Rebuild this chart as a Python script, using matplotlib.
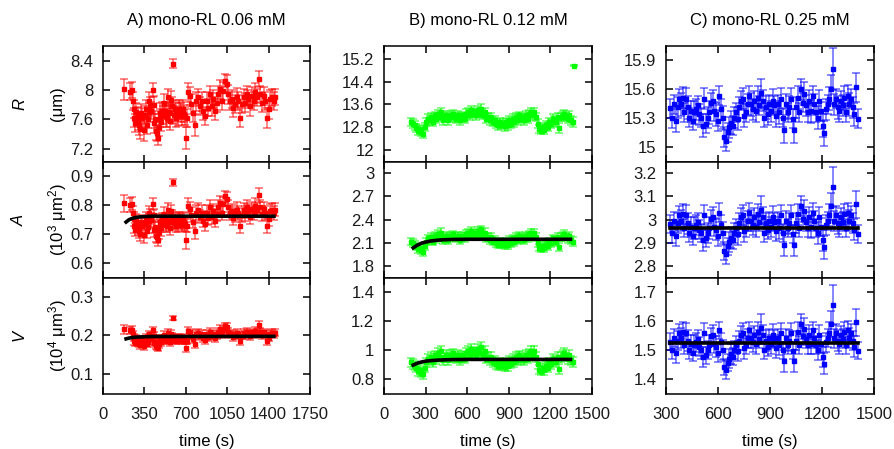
import numpy as np
import matplotlib
matplotlib.use("Agg")
import matplotlib.pyplot as plt
from matplotlib.ticker import FormatStrFormatter

plt.rcParams['font.family'] = ['Liberation Sans', 'DejaVu Sans']
plt.rcParams['mathtext.default'] = 'regular'
plt.rcParams['font.size'] = 12

# ---- A) mono-RL 0.06 mM : radius (um) vs time (s)
a_t = [180, 231, 245, 252, 259, 265, 270, 282, 293, 300, 307, 315, 322, 330, 344, 352, 364, 371, 378, 385,
       393, 401, 410, 421, 428, 435, 442, 449, 456, 464, 470, 478, 485, 492, 500, 508, 515, 525, 535, 542,
       549, 556, 563, 570, 577, 584, 591, 598, 606, 613, 620, 630, 640, 648, 657, 667, 677, 684, 691, 705,
       712, 719, 733, 748, 762, 776, 790, 804, 819, 833, 847, 861, 875, 890, 904, 918, 932, 946, 961, 975,
       989, 1003, 1017, 1032, 1046, 1060, 1074, 1088, 1103, 1117, 1131, 1145, 1159, 1174, 1188, 1202, 1216, 1230, 1245, 1259,
       1273, 1287, 1301, 1316, 1330, 1344, 1358, 1372, 1387, 1401, 1415, 1429, 1443, 1452]
a_R = [8.01, 7.98, 8.00, 7.85, 7.74, 7.62, 7.55, 7.70, 7.64, 7.58, 7.53, 7.47, 7.69, 7.62, 7.45, 7.66, 7.74, 7.52, 7.60, 7.70,
       7.85, 7.78, 7.72, 8.00, 7.80, 7.55, 7.60, 7.44, 7.42, 7.35, 7.50, 7.69, 7.62, 7.57, 7.72, 7.66, 7.82, 7.72, 7.64, 7.62,
       7.90, 7.70, 7.69, 7.58, 7.87, 7.78, 8.36, 7.66, 7.74, 7.70, 7.62, 7.64, 7.74, 7.72, 7.69, 7.64, 7.74, 7.68, 7.645, 7.35,
       7.62, 7.97, 7.92, 7.81, 7.69, 7.53, 7.85, 7.90, 7.78, 7.85, 7.71, 7.645, 7.85, 7.76, 7.94, 7.78, 7.875, 7.71, 7.83, 7.94,
       8.01, 7.85, 7.99, 8.13, 8.08, 7.94, 7.85, 7.875, 7.76, 7.81, 7.90, 7.85, 7.62, 7.81, 7.90, 7.83, 7.94, 7.875, 7.78, 7.92,
       7.85, 7.97, 7.90, 8.15, 7.94, 7.83, 7.92, 7.85, 7.62, 7.74, 7.875, 7.90, 7.85, 7.90]
a_err = [0.14, 0.12, 0.11, 0.12, 0.12, 0.13, 0.12, 0.12, 0.13, 0.12, 0.14, 0.13, 0.12, 0.13, 0.15, 0.12, 0.13, 0.12, 0.12, 0.13,
         0.12, 0.13, 0.12, 0.10, 0.12, 0.13, 0.12, 0.12, 0.11, 0.10, 0.12, 0.13, 0.12, 0.13, 0.12, 0.12, 0.13, 0.12, 0.14, 0.12,
         0.12, 0.13, 0.12, 0.13, 0.12, 0.12, 0.06, 0.12, 0.13, 0.12, 0.12, 0.13, 0.12, 0.12, 0.13, 0.12, 0.13, 0.12, 0.12, 0.15,
         0.12, 0.13, 0.12, 0.13, 0.12, 0.15, 0.13, 0.12, 0.12, 0.13, 0.12, 0.12, 0.13, 0.12, 0.12, 0.13, 0.12, 0.12, 0.13, 0.12,
         0.13, 0.12, 0.12, 0.09, 0.12, 0.13, 0.12, 0.12, 0.13, 0.12, 0.13, 0.12, 0.13, 0.12, 0.12, 0.13, 0.12, 0.12, 0.13, 0.12,
         0.12, 0.13, 0.12, 0.11, 0.12, 0.13, 0.12, 0.12, 0.14, 0.13, 0.12, 0.12, 0.12, 0.11]
a_fit_t = [195, 220, 250, 280, 320, 360, 420, 1445]
a_fit_A = [0.742, 0.750, 0.755, 0.758, 0.760, 0.761, 0.762, 0.762]
a_fit_V = [0.191, 0.193, 0.1945, 0.1955, 0.196, 0.1965, 0.197, 0.1975]

# ---- B) mono-RL 0.12 mM
b_t = [197, 209, 221, 233, 245, 257, 269, 281, 293, 305, 317, 329, 341, 353, 365, 377, 389, 401, 413, 425,
       437, 449, 461, 473, 485, 497, 509, 521, 533, 545, 557, 569, 581, 593, 605, 617, 629, 641, 653, 665,
       677, 689, 701, 713, 725, 737, 749, 761, 773, 785, 797, 809, 821, 833, 845, 857, 869, 881, 893, 905,
       917, 929, 941, 953, 965, 977, 989, 1001, 1013, 1025, 1037, 1049, 1061, 1073, 1085, 1097, 1109, 1121, 1133, 1145,
       1157, 1169, 1181, 1193, 1205, 1217, 1229, 1241, 1253, 1265, 1277, 1289, 1301, 1313, 1325, 1337, 1349, 1361]
b_R = [12.98, 12.92, 12.86, 12.78, 12.68, 12.74, 12.63, 12.57, 12.80, 12.98,
       13.10, 13.04, 13.15, 12.98, 13.21, 13.10, 13.27, 13.15, 13.33, 13.04,
       13.15, 13.21, 13.04, 13.15, 13.21, 13.27, 13.15, 13.10, 13.21, 13.04,
       13.15, 13.21, 13.10, 13.27, 13.33, 13.21, 13.39, 13.27, 13.33, 13.21,
       13.39, 13.27, 13.45, 13.21, 13.33, 13.10, 13.15, 13.04, 13.15, 12.98,
       13.04, 12.92, 12.86, 12.98, 12.86, 12.92, 12.83, 12.98, 12.86, 13.04,
       12.92, 13.10, 12.98, 13.15, 13.04, 13.21, 13.10, 13.15, 13.04, 13.21,
       13.10, 13.27, 13.33, 13.21, 13.33, 13.15, 12.92, 12.74, 12.68, 12.80,
       12.71, 12.86, 12.80, 12.98, 12.92, 13.10, 13.04, 12.98, 13.15, 12.77,
       13.15, 13.21, 13.27, 13.15, 13.10, 13.21, 13.04, 12.98]
b_err = [0.15, 0.16, 0.15, 0.14, 0.16, 0.15, 0.15, 0.17, 0.15, 0.14,
         0.15, 0.16, 0.15, 0.15, 0.14, 0.16, 0.15, 0.15, 0.16, 0.15,
         0.14, 0.15, 0.16, 0.15, 0.15, 0.14, 0.16, 0.15, 0.15, 0.16,
         0.15, 0.14, 0.15, 0.16, 0.15, 0.15, 0.16, 0.15, 0.14, 0.15,
         0.16, 0.15, 0.15, 0.14, 0.16, 0.15, 0.15, 0.16, 0.15, 0.14,
         0.15, 0.16, 0.15, 0.15, 0.14, 0.16, 0.15, 0.15, 0.16, 0.15,
         0.14, 0.15, 0.16, 0.15, 0.15, 0.14, 0.16, 0.15, 0.15, 0.16,
         0.15, 0.14, 0.15, 0.16, 0.15, 0.15, 0.16, 0.15, 0.14, 0.15,
         0.16, 0.15, 0.15, 0.14, 0.16, 0.15, 0.15, 0.16, 0.15, 0.17,
         0.15, 0.16, 0.15, 0.14, 0.16, 0.15, 0.15, 0.16]
b_out_t = [1370]
b_out_R = [14.97]
b_out_err = [0.03]
b_fit_t = [211, 240, 270, 300, 340, 380, 430, 500, 600, 1345]
b_fit_A = [2.035, 2.07, 2.095, 2.11, 2.125, 2.133, 2.14, 2.144, 2.146, 2.146]
b_fit_V = [0.897, 0.91, 0.918, 0.924, 0.928, 0.931, 0.933, 0.935, 0.936, 0.936]

# ---- C) mono-RL 0.25 mM
c_t = [323, 335, 348, 358, 367, 377, 387, 396, 406, 415, 425, 435, 444, 454, 463, 473, 483, 492, 502, 512,
       521, 531, 540, 550, 560, 569, 579, 588, 598, 608, 617, 627, 637, 646, 656, 665, 675, 685, 694, 704,
       713, 723, 733, 742, 752, 762, 771, 781, 790, 800, 810, 819, 829, 838, 848, 858, 867, 877, 887, 896,
       906, 915, 925, 935, 944, 954, 963, 973, 983, 992, 1002, 1012, 1021, 1031, 1040, 1050, 1060, 1069, 1079, 1088,
       1098, 1108, 1117, 1127, 1137, 1146, 1156, 1165, 1175, 1185, 1194, 1204, 1213, 1223, 1233, 1242, 1252, 1262, 1271, 1281,
       1290, 1300, 1310, 1319, 1329, 1338, 1348, 1358, 1367, 1377, 1387, 1396, 1406]
c_R = [15.40, 15.30, 15.44, 15.27, 15.41, 15.50, 15.44, 15.51, 15.36, 15.50, 15.41, 15.30, 15.37, 15.27, 15.36, 15.39, 15.43, 15.34, 15.30, 15.22,
       15.50, 15.24, 15.30, 15.36, 15.46, 15.48, 15.37, 15.34, 15.27, 15.53, 15.39, 15.30, 15.10, 15.06, 15.15, 15.20, 15.25, 15.22, 15.30, 15.36,
       15.29, 15.41, 15.48, 15.50, 15.32, 15.36, 15.44, 15.53, 15.44, 15.39, 15.48, 15.37, 15.51, 15.43, 15.56, 15.48, 15.30, 15.41, 15.34, 15.44,
       15.37, 15.48, 15.43, 15.32, 15.44, 15.36, 15.50, 15.30, 15.17, 15.44, 15.36, 15.41, 15.50, 15.29, 15.17, 15.41, 15.51, 15.36, 15.60, 15.46,
       15.55, 15.43, 15.36, 15.48, 15.37, 15.53, 15.44, 15.36, 15.30, 15.48, 15.37, 15.22, 15.14, 15.39, 15.44, 15.50, 15.60, 15.81, 15.44, 15.50,
       15.41, 15.37, 15.48, 15.43, 15.51, 15.36, 15.53, 15.44, 15.50, 15.41, 15.34, 15.62, 15.29]
c_err = [0.10, 0.11, 0.10, 0.12, 0.11, 0.10, 0.12, 0.11, 0.10, 0.11, 0.12, 0.10, 0.11, 0.10, 0.12, 0.11, 0.10, 0.11, 0.10, 0.12,
         0.11, 0.10, 0.11, 0.12, 0.10, 0.11, 0.10, 0.12, 0.11, 0.10, 0.11, 0.12, 0.10, 0.11, 0.10, 0.11, 0.12, 0.10, 0.11, 0.10,
         0.12, 0.11, 0.10, 0.11, 0.12, 0.10, 0.11, 0.10, 0.12, 0.11, 0.10, 0.11, 0.12, 0.10, 0.15, 0.11, 0.10, 0.12, 0.11, 0.10,
         0.11, 0.12, 0.10, 0.11, 0.10, 0.12, 0.11, 0.10, 0.13, 0.11, 0.10, 0.12, 0.11, 0.10, 0.13, 0.11, 0.12, 0.10, 0.11, 0.10,
         0.12, 0.11, 0.10, 0.11, 0.12, 0.10, 0.11, 0.10, 0.12, 0.11, 0.10, 0.12, 0.13, 0.11, 0.10, 0.12, 0.15, 0.22, 0.11, 0.10,
         0.12, 0.11, 0.10, 0.11, 0.12, 0.10, 0.11, 0.12, 0.10, 0.11, 0.12, 0.15, 0.10]
c_fit_t = [325, 1405]
c_fit_A = [2.965, 2.965]
c_fit_V = [1.525, 1.525]

titles = ['A) mono-RL 0.06 mM', 'B) mono-RL 0.12 mM', 'C) mono-RL 0.25 mM']
colors = ['#ff0000', '#00ff00', '#0000ff']
xlims = [(0, 1750), (0, 1500), (300, 1500)]
xticks = [[0, 350, 700, 1050, 1400, 1750], [0, 300, 600, 900, 1200, 1500], [300, 600, 900, 1200, 1500]]
ylims = [[(7.02, 8.6), (0.55, 0.948), (0.05, 0.348)],
         [(11.57, 15.66), (1.645, 3.146), (0.7, 1.5)],
         [(14.84, 16.05), (2.748, 3.249), (1.35, 1.75)]]
yticks = [[[7.2, 7.6, 8, 8.4], [0.6, 0.7, 0.8, 0.9], [0.1, 0.2, 0.3]],
          [[12, 12.8, 13.6, 14.4, 15.2], [1.8, 2.1, 2.4, 2.7, 3], [0.8, 1, 1.2, 1.4]],
          [[15, 15.3, 15.6, 15.9], [2.8, 2.9, 3, 3.1, 3.2], [1.4, 1.5, 1.6, 1.7]]]

cols = [(a_t, a_R, a_err, a_fit_t, a_fit_A, a_fit_V),
        (b_t, b_R, b_err, b_fit_t, b_fit_A, b_fit_V),
        (c_t, c_R, c_err, c_fit_t, c_fit_A, c_fit_V)]

W, H = 894, 449
fig = plt.figure(figsize=(W / 100, H / 100), dpi=100)
lefts = [103, 384, 666]
widths = [207, 208, 208]
rows = [(46, 162), (162, 278), (278, 393.5)]

for j, (t, R, dR, ft, fA, fV) in enumerate(cols):
    t = np.array(t, dtype=float)
    R = np.array(R)
    dR = np.array(dR)
    # sphere area (10^3 um^2) and volume (10^4 um^3) from radius
    A = 4 * np.pi * R ** 2 / 1e3
    dA = 8 * np.pi * R * dR / 1e3
    V = 4 / 3 * np.pi * R ** 3 / 1e4
    dV = 4 * np.pi * R ** 2 * dR / 1e4
    series = [(R, dR), (A, dA), (V, dV)]
    fits = [None, fA, fV]
    ecol = matplotlib.colors.to_rgba(colors[j], 0.6)
    for i in range(3):
        top, bot = rows[i]
        ax = fig.add_axes([lefts[j] / W, 1 - bot / H, widths[j] / W, (bot - top) / H])
        y, dy = series[i]
        ax.errorbar(t, y, yerr=dy, fmt='s', ms=2.6, color=colors[j], mec=colors[j],
                    ecolor=ecol, elinewidth=1.1, capsize=3, capthick=1.1, zorder=2)
        if j == 1 and i == 0:
            ax.errorbar(b_out_t, b_out_R, yerr=b_out_err, fmt='s', ms=2.6, color=colors[j],
                        ecolor=ecol, elinewidth=1.1, capsize=3, capthick=1.1, zorder=2)
        if fits[i] is not None:
            ax.plot(ft, fits[i], color='black', lw=2.6, zorder=3)
        ax.set_xlim(*xlims[j])
        ax.set_ylim(*ylims[j][i])
        ax.set_xticks(xticks[j])
        ax.set_yticks(yticks[j][i])
        ax.yaxis.set_major_formatter(FormatStrFormatter('%g'))
        ax.tick_params(direction='in', top=True, right=True, length=5, width=1.1,
                       labelsize=12, pad=7, labelcolor='#1a1a1a')
        ax.tick_params(axis='x', pad=9.5)
        for s in ax.spines.values():
            s.set_linewidth(1.1)
        if i < 2:
            ax.tick_params(labelbottom=False)
    cx = (lefts[j] + widths[j] / 2) / W
    fig.text(cx, 1 - 20 / H, titles[j], ha='center', va='center', fontsize=12)
    fig.text(cx, 1 - 441.5 / H, 'time (s)', ha='center', va='center', fontsize=12)

names = ['R', 'A', 'V']
units = ['(μm)', '(10$^3$ μm$^2$)', '(10$^4$ μm$^3$)']
for i in range(3):
    top, bot = rows[i]
    cy = 1 - (top + bot) / 2 / H
    fig.text(19.5 / W, cy, names[i], rotation=90, ha='center', va='center',
             fontsize=12, style='italic')
    fig.text(58 / W, cy, units[i], rotation=90, ha='center', va='center', fontsize=12)

fig.savefig('out.png', dpi=100)
